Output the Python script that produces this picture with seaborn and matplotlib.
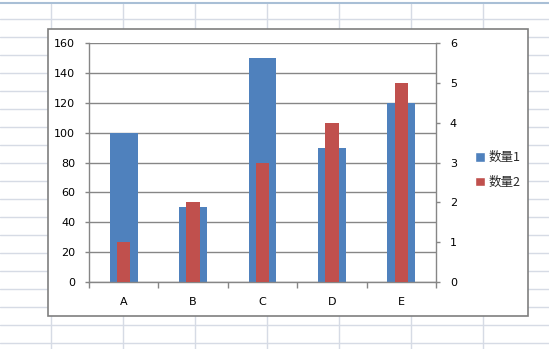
import matplotlib
matplotlib.use("Agg")
import matplotlib.pyplot as plt
from matplotlib.lines import Line2D
from matplotlib.patches import Rectangle, Patch
from matplotlib.ticker import FixedLocator, MultipleLocator
import seaborn as sns
import pandas as pd

categories = ["A", "B", "C", "D", "E"]
qty1 = [100, 50, 150, 90, 120]
qty2 = [1, 2, 3, 4, 5]
series_names = ["数量1", "数量2"]

sns.set_style("white")
plt.rcParams["font.family"] = ["DejaVu Sans", "Noto Sans CJK SC"]

W, H = 549, 349
fig = plt.figure(figsize=(W / 100, H / 100), dpi=100)
fig.patch.set_facecolor("white")

def fx(x):
    return x / W

def fy(y):
    return 1 - y / H

# spreadsheet background grid
grid_c = "#d6dbe5"
for y in range(19, 349, 18):
    fig.add_artist(Line2D([0, 1], [fy(y), fy(y)], transform=fig.transFigure,
                          color=grid_c, lw=1, zorder=0))
for x in [51, 123, 195, 267, 339, 411, 483]:
    fig.add_artist(Line2D([fx(x), fx(x)], [0, fy(4)], transform=fig.transFigure,
                          color=grid_c, lw=1, zorder=0))
fig.add_artist(Line2D([0, 1], [fy(3), fy(3)], transform=fig.transFigure,
                      color="#a9bfd6", lw=1.5, zorder=0))

# chart area
fig.add_artist(Rectangle((fx(48), fy(316)), fx(528 - 48), (316 - 29) / H,
                         transform=fig.transFigure, facecolor="white",
                         edgecolor="#7f7f7f", lw=1.2, zorder=1))

df = pd.DataFrame({"cat": categories, "v1": qty1, "v2": qty2})

ax = fig.add_axes([fx(89), fy(282), fx(436 - 89), (282 - 43) / H])
ax.set_zorder(2)
ax.set_facecolor("none")
sns.barplot(data=df, x="cat", y="v1", color="#4f81bd", saturation=1,
            width=0.4, linewidth=0, ax=ax)
ax.set_ylim(0, 160)
ax.yaxis.set_major_locator(MultipleLocator(20))
ax.set_xlim(-0.5, 4.5)
ax.grid(axis="y", color="#868686", lw=1, zorder=0)
ax.grid(axis="x", visible=False)
ax.set_axisbelow(True)
for p in ax.patches:
    p.set_zorder(2)
ax.set_xlabel("")
ax.set_ylabel("")

ax2 = ax.twinx()
ax2.set_zorder(3)
ax2.set_facecolor("none")
sns.barplot(data=df, x="cat", y="v2", color="#c0504d", saturation=1,
            width=0.195, linewidth=0, ax=ax2)
ax2.set_ylim(0, 6)
ax2.yaxis.set_major_locator(MultipleLocator(1))
ax2.set_xlim(-0.5, 4.5)
ax2.set_ylabel("")
ax2.set_xlabel("")
ax2.grid(False)

for a in (ax, ax2):
    for s in a.spines.values():
        s.set_visible(False)
        s.set_color("#868686")
        s.set_linewidth(1)
ax.spines["left"].set_visible(True)
ax.spines["bottom"].set_visible(True)
ax2.spines["right"].set_visible(True)

ax.tick_params(axis="y", direction="out", length=3, width=1, color="#868686",
               pad=7, labelsize=8, labelcolor="black", left=True)
ax2.tick_params(axis="y", direction="out", length=3, width=1, color="#868686",
                pad=7, labelsize=8, labelcolor="black", right=True)
ax.xaxis.set_minor_locator(FixedLocator([-0.5, 0.5, 1.5, 2.5, 3.5, 4.5]))
ax.tick_params(axis="x", which="major", length=0, pad=11, labelsize=8,
               labelcolor="black")
ax.tick_params(axis="x", which="minor", direction="out", length=4, width=1,
               color="#868686", bottom=True)

handles = [Patch(facecolor="#4f81bd", label=series_names[0]),
           Patch(facecolor="#c0504d", label=series_names[1])]
fig.legend(handles=handles, loc="center left",
           bbox_to_anchor=(fx(464), fy(170)), frameon=False,
           handlelength=0.75, handleheight=0.75, handletextpad=0.3,
           labelspacing=0.9, prop={"family": ["Noto Sans CJK SC", "DejaVu Sans"], "size": 9})

fig.savefig("out.png", dpi=100)
